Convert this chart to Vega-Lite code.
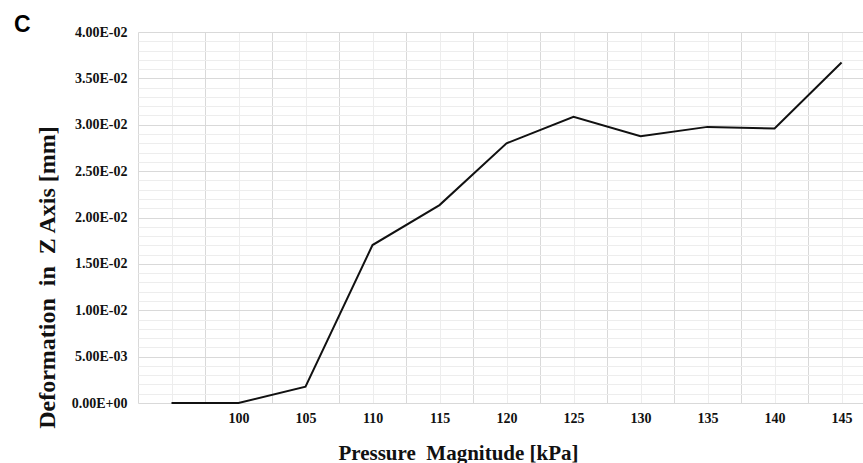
{
  "$schema": "https://vega.github.io/schema/vega-lite/v6.json",
  "width": 725,
  "height": 371,
  "autosize": {"type": "none"},
  "padding": {"left": 138, "top": 32, "right": 0, "bottom": 60},
  "background": "white",
  "title": {
    "text": "C",
    "anchor": "start",
    "frame": "group",
    "dx": -124,
    "dy": 30,
    "offset": 0,
    "baseline": "alphabetic",
    "font": "Liberation Sans",
    "fontSize": 23,
    "fontWeight": "bold",
    "color": "#000"
  },
  "config": {"view": {"stroke": null}},
  "data": {
    "values": [
      {"pressure": 95, "deformation": 0},
      {"pressure": 100, "deformation": 0},
      {"pressure": 105, "deformation": 0.00176},
      {"pressure": 110, "deformation": 0.01703},
      {"pressure": 115, "deformation": 0.02134},
      {"pressure": 120, "deformation": 0.0280},
      {"pressure": 125, "deformation": 0.03085},
      {"pressure": 130, "deformation": 0.02877},
      {"pressure": 135, "deformation": 0.02977},
      {"pressure": 140, "deformation": 0.0296},
      {"pressure": 145, "deformation": 0.03671}
    ]
  },
  "layer": [
    {
      "mark": {"type": "line", "strokeOpacity": 0},
      "encoding": {
        "x": {"field": "pressure", "type": "quantitative", "scale": {"domain": [92.5, 146.6], "nice": false, "zero": false},
          "axis": {"orient": "top", "values": [95, 100, 105, 110, 115, 120, 125, 130, 135, 140, 145], "grid": true, "gridColor": "#ededed", "gridWidth": 1, "labels": false, "ticks": false, "domain": false, "title": null}},
        "y": {"field": "deformation", "type": "quantitative", "scale": {"domain": [0, 0.04], "nice": false},
          "axis": {"orient": "right", "values": [0.001, 0.002, 0.003, 0.004, 0.006, 0.007, 0.008, 0.009, 0.011, 0.012, 0.013, 0.014, 0.016, 0.017, 0.018, 0.019, 0.021, 0.022, 0.023, 0.024, 0.026, 0.027, 0.028, 0.029, 0.031, 0.032, 0.033, 0.034, 0.036, 0.037, 0.038, 0.039], "grid": true, "gridColor": "#ededed", "gridWidth": 1, "labels": false, "ticks": false, "domain": false, "title": null}}
      }
    },
    {
      "mark": {"type": "line", "strokeOpacity": 0},
      "encoding": {
        "x": {"field": "pressure", "type": "quantitative",
          "axis": {"orient": "top", "values": [92.5, 97.5, 102.5, 107.5, 112.5, 117.5, 122.5, 127.5, 132.5, 137.5, 142.5], "grid": true, "gridColor": "#d9d9d9", "gridWidth": 1, "labels": false, "ticks": false, "domain": false, "title": null}},
        "y": {"field": "deformation", "type": "quantitative",
          "axis": {"orient": "right", "values": [0, 0.005, 0.01, 0.015, 0.02, 0.025, 0.03, 0.035, 0.04], "grid": true, "gridColor": "#d9d9d9", "gridWidth": 1, "labels": false, "ticks": false, "domain": false, "title": null}}
      }
    },
    {
      "mark": {"type": "line", "color": "#111111", "strokeWidth": 2},
      "encoding": {
        "x": {"field": "pressure", "type": "quantitative",
          "axis": {"orient": "bottom", "values": [100, 105, 110, 115, 120, 125, 130, 135, 140, 145], "grid": false, "ticks": false, "domain": false,
            "labelFont": "Liberation Serif", "labelFontWeight": "bold", "labelFontSize": 14, "labelColor": "#111", "labelPadding": 8,
            "title": "Pressure\u00a0 Magnitude [kPa]", "titleFont": "Liberation Serif", "titleFontWeight": "bold", "titleFontSize": 21, "titleColor": "#111",
            "titleX": 320, "titleY": 50, "titleBaseline": "middle", "titleAlign": "center"}},
        "y": {"field": "deformation", "type": "quantitative",
          "axis": {"orient": "left", "values": [0, 0.005, 0.01, 0.015, 0.02, 0.025, 0.03, 0.035, 0.04], "grid": false, "ticks": false, "domain": false,
            "labelExpr": "replace(replace(format(datum.value, '.2e'), 'e-', 'E-0'), 'e+', 'E+0')",
            "labelFont": "Liberation Serif", "labelFontWeight": "bold", "labelFontSize": 14, "labelColor": "#111", "labelPadding": 11,
            "title": "Deformation\u00a0 in\u00a0 Z Axis [mm]", "titleFont": "Liberation Serif", "titleFontWeight": "bold", "titleFontSize": 24, "titleColor": "#111",
            "titleX": -91, "titleY": 245, "titleAngle": -90, "titleBaseline": "middle", "titleAlign": "center"}}
      }
    }
  ],
  "resolve": {"axis": {"x": "independent", "y": "independent"}}
}
